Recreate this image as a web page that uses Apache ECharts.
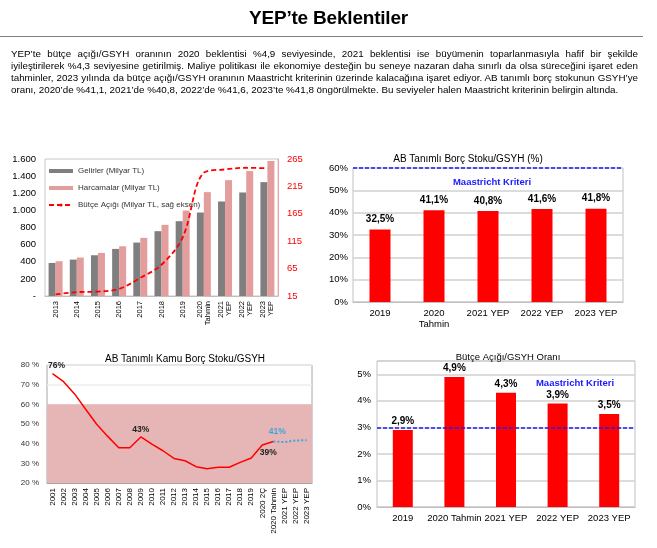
<!DOCTYPE html>
<html><head><meta charset="utf-8">
<script src="https://cdn.jsdelivr.net/npm/echarts@6/dist/echarts.min.js"></script>
<style>
body{margin:0;background:#fff;font-family:'Liberation Sans',Arial,sans-serif;}
#chart{position:absolute;left:0;top:0;width:657px;height:548px;}
#hdr{position:absolute;left:0;top:0;width:657px;height:100px;z-index:2;}
.t{position:absolute;left:0;width:657px;top:7px;text-align:center;font-weight:bold;font-size:19px;line-height:22px;letter-spacing:-0.2px;color:#000;}
.rule{position:absolute;left:0;top:36px;width:643px;height:0;border-top:1.5px solid #7f7f7f;}
.p{position:absolute;left:11px;width:627px;font-size:9.8px;line-height:12px;color:#000;}
.p div{text-align:justify;text-align-last:justify;white-space:nowrap;height:12px;}
.p div.last{text-align:left;text-align-last:left;}
</style>
</head><body>
<div id="chart"></div>
<div id="hdr">
  <div class="t">YEP’te Beklentiler</div>
  <div class="rule"></div>
  <div class="p" style="top:48px;">
    <div>YEP’te bütçe açığı/GSYH oranının 2020 beklentisi %4,9 seviyesinde, 2021 beklentisi ise büyümenin toparlanmasıyla hafif bir şekilde</div>
    <div>iyileştirilerek %4,3 seviyesine getirilmiş. Maliye politikası ile ekonomiye desteğin bu seneye nazaran daha sınırlı da olsa süreceğini işaret eden</div>
    <div>tahminler, 2023 yılında da bütçe açığı/GSYH oranının Maastricht kriterinin üzerinde kalacağına işaret ediyor. AB tanımlı borç stokunun GSYH’ye</div>
    <div class="last">oranı, 2020’de %41,1, 2021’de %40,8, 2022’de %41,6, 2023’te %41,8 öngörülmekte. Bu seviyeler halen Maastricht kriterinin belirgin altında.</div>
  </div>
</div>
<script>
// ---- Chart 1: Gelirler / Harcamalar / Bütçe Açığı ----
const c1Years = ['2013','2014','2015','2016','2017','2018','2019','2020\nTahmin','2021\nYEP','2022\nYEP','2023\nYEP'];
const c1Gelirler = [386,425,476,550,624,757,874,975,1104,1209,1330];
const c1Harcamalar = [406,449,503,581,679,831,998,1213,1353,1459,1576];
const c1Acik = [18,22,23,28,48,72,122,240,246,249,248];
const c1LeftTicks = {min:0, max:1600, interval:200};
const c1RightTicks = {min:15, max:265, interval:50};

// ---- Chart 2: AB Tanımlı Borç Stoku/GSYH (%) ----
const c2Cats = ['2019','2020\nTahmin','2021 YEP','2022 YEP','2023 YEP'];
const c2Values = [32.5,41.1,40.8,41.6,41.8];
const c2Criterion = 60;

// ---- Chart 3: AB Tanımlı Kamu Borç Stoku/GSYH ----
const c3Cats = ['2001','2002','2003','2004','2005','2006','2007','2008','2009','2010','2011','2012','2013','2014','2015','2016','2017','2018','2019','2020 2Ç','2020 Tahmin','2021 YEP','2022 YEP','2023 YEP'];
const c3Actual = [75.6,71.5,65.3,57.5,49.9,43.7,37.9,37.9,43.4,39.8,36.4,32.5,31.3,28.3,27.3,28.0,28.0,30.5,32.7,39.3,41.1,null,null,null];
const c3Projection = [null,null,null,null,null,null,null,null,null,null,null,null,null,null,null,null,null,null,null,null,41.1,40.8,41.6,41.8];
const c3LabelIdx = {top:[0,8], bottom:[19]};
const c3Band = [20,60];

// ---- Chart 4: Bütçe Açığı/GSYH Oranı ----
const c4Cats = ['2019','2020 Tahmin','2021 YEP','2022 YEP','2023 YEP'];
const c4Values = [2.9,4.9,4.3,3.9,3.5];
const c4Criterion = 3;

const FF = "'Liberation Sans', Arial, sans-serif";
const pct1 = v => String(v).replace('.', ',') + '%';
const thousands = v => v === 0 ? '-' : String(v).replace(/\B(?=(\d{3})+(?!\d))/g, '.');

const chart = echarts.init(document.getElementById('chart'), null, {renderer:'canvas'});

const c3ActualData = c3Actual.map((v,i) => {
  if (c3LabelIdx.top.includes(i)) return {value:v, label:{show:true, position:'top', distance:3, offset:i===0?[4,0]:[0,0]}};
  if (c3LabelIdx.bottom.includes(i)) return {value:v, label:{show:true, position:'bottom', distance:3, offset:[6,0]}};
  return v;
});
const c3ProjData = c3Projection.map((v,i) => (i === 20 ? {value:v, label:{show:true, position:'top', distance:5, offset:[4,0]}} : v));

const option = {
  animation:false,
  textStyle:{fontFamily:FF},
  title:[
    {text:'AB Tanımlı Borç Stoku/GSYH (%)', left:468, top:154, padding:0, textAlign:'center', textStyle:{fontSize:10, fontWeight:'normal', color:'#000', fontFamily:FF}},
    {text:'Maastricht Kriteri', left:492, top:177, padding:0, textAlign:'center', textStyle:{fontSize:9.5, fontWeight:'bold', color:'#1a1aff', fontFamily:FF}},
    {text:'AB Tanımlı Kamu Borç Stoku/GSYH', left:185, top:354, padding:0, textAlign:'center', textStyle:{fontSize:10, fontWeight:'normal', color:'#000', fontFamily:FF}},
    {text:'Bütçe Açığı/GSYH Oranı', left:508, top:352, padding:0, textAlign:'center', textStyle:{fontSize:9.5, fontWeight:'normal', color:'#000', fontFamily:FF}},
    {text:'Maastricht Kriteri', left:575, top:378, padding:0, textAlign:'center', textStyle:{fontSize:9.5, fontWeight:'bold', color:'#1a1aff', fontFamily:FF}}
  ],
  legend:{
    left:43, top:162, orient:'vertical', itemWidth:24, itemHeight:4, itemGap:9,
    textStyle:{fontSize:8, color:'#333', fontFamily:FF},
    data:[{name:'Gelirler (Milyar TL)', icon:'rect'}, {name:'Harcamalar (Milyar TL)', icon:'rect'}, {name:'Bütçe Açığı (Milyar TL, sağ eksen)'}]
  },
  grid:[
    {left:45, top:159, width:233, height:137, show:true, borderColor:'#c8c8c8', borderWidth:1},
    {left:353, top:168, width:270, height:134, show:true, borderColor:'#c0c0c0', borderWidth:1},
    {left:47, top:365, width:265, height:118, show:true, borderColor:'#a6a6a6', borderWidth:1},
    {left:377, top:361, width:258, height:146, show:true, borderColor:'#c0c0c0', borderWidth:1}
  ],
  xAxis:[
    {gridIndex:0, type:'category', data:c1Years, axisTick:{show:false}, axisLine:{lineStyle:{color:'#bfbfbf'}},
     axisLabel:{rotate:90, interval:0, fontSize:7.5, lineHeight:8, color:'#000', margin:5}},
    {gridIndex:1, type:'category', data:c2Cats, axisTick:{show:false}, axisLine:{lineStyle:{color:'#bfbfbf'}},
     axisLabel:{interval:0, fontSize:9.5, lineHeight:11, color:'#000', margin:6}},
    {gridIndex:2, type:'category', data:c3Cats, axisTick:{show:false}, axisLine:{lineStyle:{color:'#a6a6a6'}},
     axisLabel:{rotate:90, interval:0, fontSize:8, color:'#000', margin:5}},
    {gridIndex:3, type:'category', data:c4Cats, axisTick:{show:false}, axisLine:{lineStyle:{color:'#bfbfbf'}},
     axisLabel:{interval:0, fontSize:9.5, color:'#000', margin:6}}
  ],
  yAxis:[
    {gridIndex:0, type:'value', position:'left', min:c1LeftTicks.min, max:c1LeftTicks.max, interval:c1LeftTicks.interval,
     splitLine:{show:false}, axisLine:{show:false}, axisTick:{show:false},
     axisLabel:{fontSize:9.5, color:'#000', margin:9, formatter:thousands}},
    {gridIndex:0, type:'value', position:'right', min:c1RightTicks.min, max:c1RightTicks.max, interval:c1RightTicks.interval,
     splitLine:{show:false}, axisLine:{show:true, lineStyle:{color:'#f2a3a3'}}, axisTick:{show:false},
     axisLabel:{fontSize:9.5, color:'#ff0000', margin:9}},
    {gridIndex:1, type:'value', min:0, max:c2Criterion, interval:10,
     splitLine:{lineStyle:{color:'#d0d0d0', width:1.5}}, axisLine:{show:false}, axisTick:{show:false},
     axisLabel:{fontSize:9.5, color:'#000', margin:5, formatter:'{value}%'}},
    {gridIndex:2, type:'value', min:20, max:80, interval:10,
     splitLine:{lineStyle:{color:'#ececec', width:1.5}}, axisLine:{show:false}, axisTick:{show:false},
     axisLabel:{fontSize:8, color:'#333', margin:8, formatter:'{value} %'}},
    {gridIndex:3, type:'value', min:0, max:5.5, interval:1,
     splitLine:{lineStyle:{color:'#d0d0d0', width:1.5}}, axisLine:{show:false}, axisTick:{show:false},
     axisLabel:{fontSize:9.5, color:'#000', margin:6, formatter:v => (Number.isInteger(v) ? v + '%' : '')}}
  ],
  series:[
    {name:'Gelirler (Milyar TL)', type:'bar', xAxisIndex:0, yAxisIndex:0, data:c1Gelirler, barWidth:7, barGap:'0%',
     itemStyle:{color:'#7f7f7f'}},
    {name:'Harcamalar (Milyar TL)', type:'bar', xAxisIndex:0, yAxisIndex:0, data:c1Harcamalar, barWidth:7, barGap:'0%',
     itemStyle:{color:'#e39d9d'}},
    {name:'Bütçe Açığı (Milyar TL, sağ eksen)', type:'line', xAxisIndex:0, yAxisIndex:1, data:c1Acik, smooth:0.35,
     symbol:'none', itemStyle:{color:'#ff0000'}, lineStyle:{color:'#ff0000', width:1.8, type:[5,3]}, z:5},
    {name:'c2', type:'bar', xAxisIndex:1, yAxisIndex:2, data:c2Values, barWidth:21, itemStyle:{color:'#ff0000'},
     label:{show:true, position:'top', distance:5, fontSize:10, fontWeight:'bold', color:'#000', formatter:p => pct1(p.value)},
     markLine:{silent:true, symbol:['none','none'], label:{show:false}, data:[{yAxis:c2Criterion}],
       lineStyle:{color:'#1a1aff', type:[4,2], width:1.5}}},
    {name:'c3band', type:'line', xAxisIndex:2, yAxisIndex:3, data:[], z:-1, silent:true,
     markArea:{silent:true, itemStyle:{color:'#e6b6b6'}, data:[[{yAxis:c3Band[0]},{yAxis:c3Band[1]}]]}},
    {name:'c3actual', type:'line', xAxisIndex:2, yAxisIndex:3, data:c3ActualData, symbol:'circle', symbolSize:0.01, showSymbol:true,
     lineStyle:{color:'#ff0000', width:1.5}, itemStyle:{color:'#ff0000'},
     label:{show:false, fontSize:8.5, fontWeight:'bold', color:'#222', formatter:p => Math.round(p.value) + '%'}},
    {name:'c3proj', type:'line', xAxisIndex:2, yAxisIndex:3, data:c3ProjData, symbol:'circle', symbolSize:0.01, showSymbol:true,
     lineStyle:{color:'#3aa6dd', width:2, type:'dotted'}, itemStyle:{color:'#3aa6dd'},
     label:{show:false, fontSize:8.5, fontWeight:'bold', color:'#3aa6dd', formatter:p => Math.round(p.value) + '%'}},
    {name:'c4', type:'bar', xAxisIndex:3, yAxisIndex:4, data:c4Values, barWidth:20, itemStyle:{color:'#ff0000'},
     label:{show:true, position:'top', distance:3.5, fontSize:10, fontWeight:'bold', color:'#000', formatter:p => pct1(p.value)},
     markLine:{silent:true, symbol:['none','none'], label:{show:false}, data:[{yAxis:c4Criterion}],
       lineStyle:{color:'#1a1aff', type:[4,2], width:1.5}}}
  ]
};
chart.setOption(option);
</script>
</body></html>
